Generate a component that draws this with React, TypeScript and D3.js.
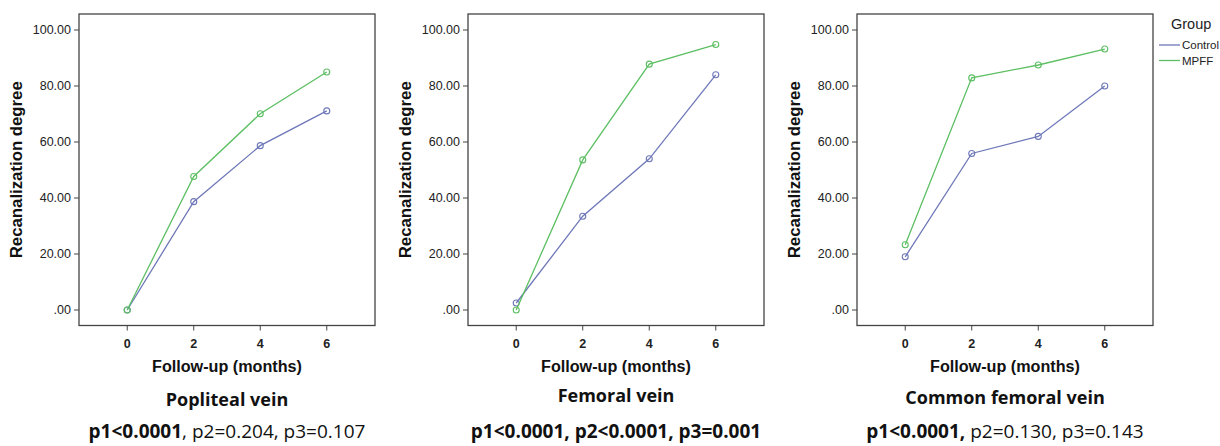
import React from "react";
import * as d3 from "d3";

const months = [0, 2, 4, 6];
const yTicks = [0, 20, 40, 60, 80, 100];
const panelNames = ["Popliteal vein", "Femoral vein", "Common femoral vein"];
const controlValues = [
  [0, 38.7, 58.7, 71.1],
  [2.5, 33.5, 54.0, 84.0],
  [19.0, 55.9, 62.0, 80.0],
];
const mpffValues = [
  [0, 47.7, 70.1, 85.0],
  [0, 53.6, 87.8, 94.8],
  [23.3, 82.9, 87.5, 93.2],
];
// bold part / regular part of p-value lines
const pBold = ["p1<0.0001", "p1<0.0001, p2<0.0001, p3=0.001", "p1<0.0001,"];
const pRest = [", p2=0.204, p3=0.107", "", " p2=0.130, p3=0.143"];
const groups = ["Control", "MPFF"];
const colors = ["#6e78b8", "#5dbf63"];

const panelLeft = [79, 468, 857];
const boxW = 296;
const boxTop = 14;
const boxBottom = 325.5;
const titleY = [406, 402, 404];
const sans = "'Liberation Sans', Arial, sans-serif";
const titleFont = "'Open Sans', 'Noto Sans', sans-serif";

function Panel({ idx }: { idx: number }) {
  const left = panelLeft[idx];
  const x = d3.scaleLinear().domain([-1.45, 7.45]).range([left, left + boxW]);
  const y = d3.scaleLinear().domain([0, 100]).range([310, 30]);
  const line = d3
    .line<number>()
    .x((_, i) => x(months[i]))
    .y((v) => y(v));
  const cx = left + boxW / 2;
  const series = [controlValues[idx], mpffValues[idx]];

  return (
    <g>
      <rect
        x={left}
        y={boxTop}
        width={boxW}
        height={boxBottom - boxTop}
        fill="none"
        stroke="#444"
        strokeWidth={1.3}
      />
      {yTicks.map((t) => (
        <g key={t}>
          <line x1={left - 5} x2={left} y1={y(t)} y2={y(t)} stroke="#444" />
          <text
            x={left - 8}
            y={y(t)}
            dy="0.35em"
            textAnchor="end"
            fontFamily={sans}
            fontSize={12.5}
            fill="#222"
          >
            {t === 0 ? ".00" : d3.format(".2f")(t)}
          </text>
        </g>
      ))}
      {months.map((m) => (
        <g key={m}>
          <line x1={x(m)} x2={x(m)} y1={boxBottom} y2={boxBottom + 5} stroke="#444" />
          <text
            x={x(m)}
            y={348}
            textAnchor="middle"
            fontFamily={sans}
            fontSize={12.5}
            fontWeight="bold"
            fill="#222"
          >
            {m}
          </text>
        </g>
      ))}
      {series.map((vals, s) => (
        <g key={s}>
          <path d={line(vals) || ""} fill="none" stroke={colors[s]} strokeWidth={1.3} />
          {vals.map((v, i) => (
            <circle
              key={i}
              cx={x(months[i])}
              cy={y(v)}
              r={3}
              fill="none"
              stroke={colors[s]}
              strokeWidth={1.1}
            />
          ))}
        </g>
      ))}
      <text
        transform={`translate(${left - 57},${(boxTop + boxBottom) / 2}) rotate(-90)`}
        textAnchor="middle"
        fontFamily={sans}
        fontSize={16}
        fontWeight="bold"
        fill="#111"
        textLength={177}
        lengthAdjust="spacingAndGlyphs"
      >
        Recanalization degree
      </text>
      <text
        x={cx}
        y={372}
        textAnchor="middle"
        fontFamily={sans}
        fontSize={16}
        fontWeight="bold"
        fill="#111"
        textLength={150}
        lengthAdjust="spacingAndGlyphs"
      >
        Follow-up (months)
      </text>
      <text
        x={cx}
        y={titleY[idx]}
        textAnchor="middle"
        fontFamily={titleFont}
        fontSize={18}
        fontWeight="bold"
        fill="#111"
      >
        {panelNames[idx]}
      </text>
      <text
        x={cx}
        y={438}
        textAnchor="middle"
        fontFamily={titleFont}
        fontSize={19}
        fill="#111"
      >
        <tspan fontWeight="bold">{pBold[idx]}</tspan>
        <tspan>{pRest[idx]}</tspan>
      </text>
    </g>
  );
}

export default function App() {
  return (
    <svg
      width={1220}
      height={446}
      style={{ position: "absolute", left: 0, top: 0, background: "#fff" }}
    >
      {panelNames.map((_, i) => (
        <Panel key={i} idx={i} />
      ))}
      <g>
        <text x={1171} y={29} fontFamily={sans} fontSize={14.5} fill="#222">
          Group
        </text>
        {groups.map((g, i) => (
          <g key={g}>
            <line
              x1={1159}
              x2={1180}
              y1={45 + i * 15.5}
              y2={45 + i * 15.5}
              stroke={colors[i]}
              strokeWidth={1.3}
            />
            <text
              x={1182}
              y={45 + i * 15.5}
              dy="0.35em"
              fontFamily={sans}
              fontSize={11.5}
              fill="#222"
            >
              {g}
            </text>
          </g>
        ))}
      </g>
    </svg>
  );
}
